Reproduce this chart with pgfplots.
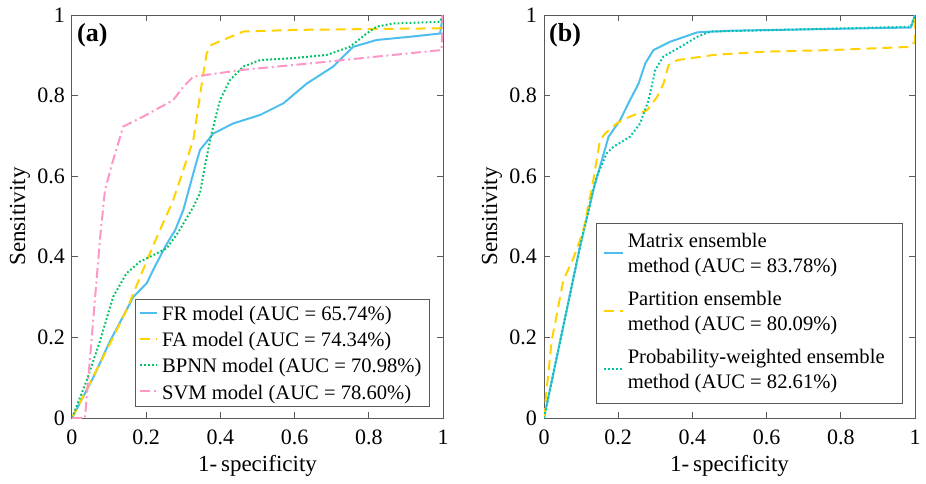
\documentclass[border=0pt]{standalone}
\usepackage{fontspec}
\setmainfont{Liberation Serif}
\usepackage{pgfplots}
\pgfplotsset{compat=1.18}
\definecolor{cblue}{RGB}{77,190,238}
\definecolor{cyellow}{RGB}{255,210,0}
\definecolor{cgreen}{RGB}{0,195,100}
\definecolor{cteal}{RGB}{0,195,165}
\definecolor{cpink}{RGB}{255,150,200}
\definecolor{axgray}{RGB}{90,90,90}
\newcommand\twoline[2]{\begin{tabular}{@{}l@{\hspace{4pt}}}#1\\#2\end{tabular}}
\pgfplotsset{
  rocax/.style={
    width=185.5pt, height=201.5pt, scale only axis,
    xmin=0, xmax=1, ymin=0, ymax=1,
    xtick={0,0.2,0.4,0.6,0.8,1}, ytick={0,0.2,0.4,0.6,0.8,1},
    xticklabels={0,0.2,0.4,0.6,0.8,1}, yticklabels={0,0.2,0.4,0.6,0.8,1},
    tick align=inside, major tick length=3pt,
    axis line style={axgray, line width=0.5pt},
    every tick/.style={axgray, line width=0.5pt},
    ticklabel style={font=\fontsize{11}{13}\selectfont, text=black},
    xticklabel style={yshift=-2.5pt},
    /pgf/number format/assume math mode=true,
    xlabel={1-\,specificity}, ylabel={Sensitivity},
    xlabel style={font=\fontsize{11.5}{13}\selectfont, at={(axis description cs:0.5,0)}, anchor=center, yshift=-24pt},
    ylabel style={font=\fontsize{11.5}{13}\selectfont, at={(axis description cs:-0.14,0.5)}, anchor=center},
    legend cell align=left,
    legend style={draw=axgray, line width=0.5pt, font=\fontsize{10.3}{12.5}\selectfont, anchor=south east, inner xsep=2pt, inner ysep=1.5pt},
  },
  fr/.style={cblue, line width=1pt},
  fa/.style={cyellow, line width=1pt, dash pattern=on 5pt off 3pt},
  bp/.style={cgreen, line width=1pt, dash pattern=on 0.9pt off 1.1pt},
  sv/.style={cpink, line width=1pt, dash pattern=on 5pt off 1.8pt on 1pt off 1.8pt},
  pw/.style={cteal, line width=1pt, dash pattern=on 0.9pt off 1.1pt},
}
\begin{document}
\begin{tikzpicture}
\useasboundingbox (-36pt,-32.5pt) rectangle (427pt,209pt);
\begin{axis}[rocax, at={(0pt,0pt)}, anchor=south west,
  legend image code/.code={\draw (0pt,0.3pt) -- (8.5pt,0.3pt);},
  legend style={at={(rel axis cs:0.965,0.028)}, inner ysep=0.5pt, nodes={inner ysep=3pt, text depth=0pt}}]
\addplot[fr] coordinates {(0,0) (0.057,0.10) (0.102,0.19) (0.147,0.268) (0.165,0.30) (0.201,0.334) (0.228,0.384) (0.253,0.428) (0.278,0.466) (0.30,0.516) (0.332,0.624) (0.345,0.665) (0.381,0.706) (0.435,0.731) (0.507,0.752) (0.570,0.781) (0.633,0.830) (0.704,0.872) (0.731,0.897) (0.758,0.921) (0.821,0.938) (0.911,0.946) (0.992,0.954) (1,1)};
\addlegendentry{FR model (AUC = 65.74\%)}
\addplot[fa] coordinates {(0,0) (0.05,0.09) (0.10,0.18) (0.147,0.268) (0.206,0.40) (0.237,0.466) (0.273,0.541) (0.327,0.69) (0.354,0.855) (0.363,0.905) (0.376,0.926) (0.462,0.959) (0.597,0.963) (0.992,0.967) (1,1)};
\addlegendentry{FA model (AUC = 74.34\%)}
\addplot[bp] coordinates {(0,0) (0.040,0.094) (0.075,0.19) (0.111,0.301) (0.147,0.359) (0.183,0.388) (0.219,0.404) (0.255,0.421) (0.278,0.45) (0.287,0.462) (0.327,0.524) (0.345,0.558) (0.358,0.624) (0.376,0.706) (0.399,0.789) (0.426,0.839) (0.462,0.872) (0.507,0.888) (0.597,0.893) (0.687,0.901) (0.749,0.921) (0.794,0.954) (0.821,0.971) (0.866,0.979) (0.992,0.983) (1,1)};
\addlegendentry{BPNN model (AUC = 70.98\%)}
\addplot[sv] coordinates {(0,0) (0.035,0) (0.076,0.45) (0.089,0.566) (0.111,0.640) (0.138,0.723) (0.192,0.748) (0.273,0.789) (0.30,0.822) (0.327,0.847) (0.462,0.864) (0.687,0.884) (0.866,0.901) (0.996,0.913) (1,1)};
\addlegendentry{SVM model (AUC = 78.60\%)}
\node[anchor=west, inner sep=0pt, font=\bfseries\fontsize{13}{15}\selectfont] at (rel axis cs:0.013,0.95) {(a)};
\end{axis}
\begin{axis}[rocax, at={(236pt,0pt)}, anchor=south west,
  legend image code/.code={\draw (0pt,1pt) -- (9.5pt,1pt);},
  legend style={at={(rel axis cs:0.968,0.035)}, inner ysep=1.5pt, inner xsep=3pt, nodes={text depth=}}]
\addplot[fr] coordinates {(0,0) (0.097,0.425) (0.133,0.566) (0.151,0.624) (0.174,0.698) (0.205,0.739) (0.232,0.789) (0.255,0.830) (0.273,0.880) (0.295,0.913) (0.341,0.934) (0.413,0.957) (0.503,0.961) (0.989,0.969) (1,1)};
\addlegendentry{\twoline{Matrix ensemble}{method (AUC = 83.78\%)}}
\addplot[fa] coordinates {(0,0) (0.007,0.07) (0.021,0.194) (0.030,0.235) (0.052,0.342) (0.079,0.396) (0.097,0.442) (0.106,0.466) (0.133,0.59) (0.151,0.690) (0.165,0.706) (0.196,0.731) (0.232,0.748) (0.278,0.764) (0.305,0.797) (0.322,0.830) (0.336,0.876) (0.359,0.888) (0.458,0.901) (0.593,0.909) (0.773,0.913) (0.989,0.921) (1,0.935) (1,1)};
\addlegendentry{\twoline{Partition ensemble}{method (AUC = 80.09\%)}}
\addplot[pw] coordinates {(0,0) (0.097,0.425) (0.133,0.566) (0.142,0.599) (0.169,0.657) (0.187,0.673) (0.232,0.698) (0.259,0.731) (0.282,0.789) (0.30,0.864) (0.322,0.897) (0.368,0.921) (0.413,0.946) (0.449,0.959) (0.989,0.971) (1,1)};
\addlegendentry{\twoline{Probability-weighted ensemble}{method (AUC = 82.61\%)}}
\node[anchor=west, inner sep=0pt, font=\bfseries\fontsize{13}{15}\selectfont] at (rel axis cs:0.013,0.95) {(b)};
\end{axis}
\end{tikzpicture}
\end{document}
